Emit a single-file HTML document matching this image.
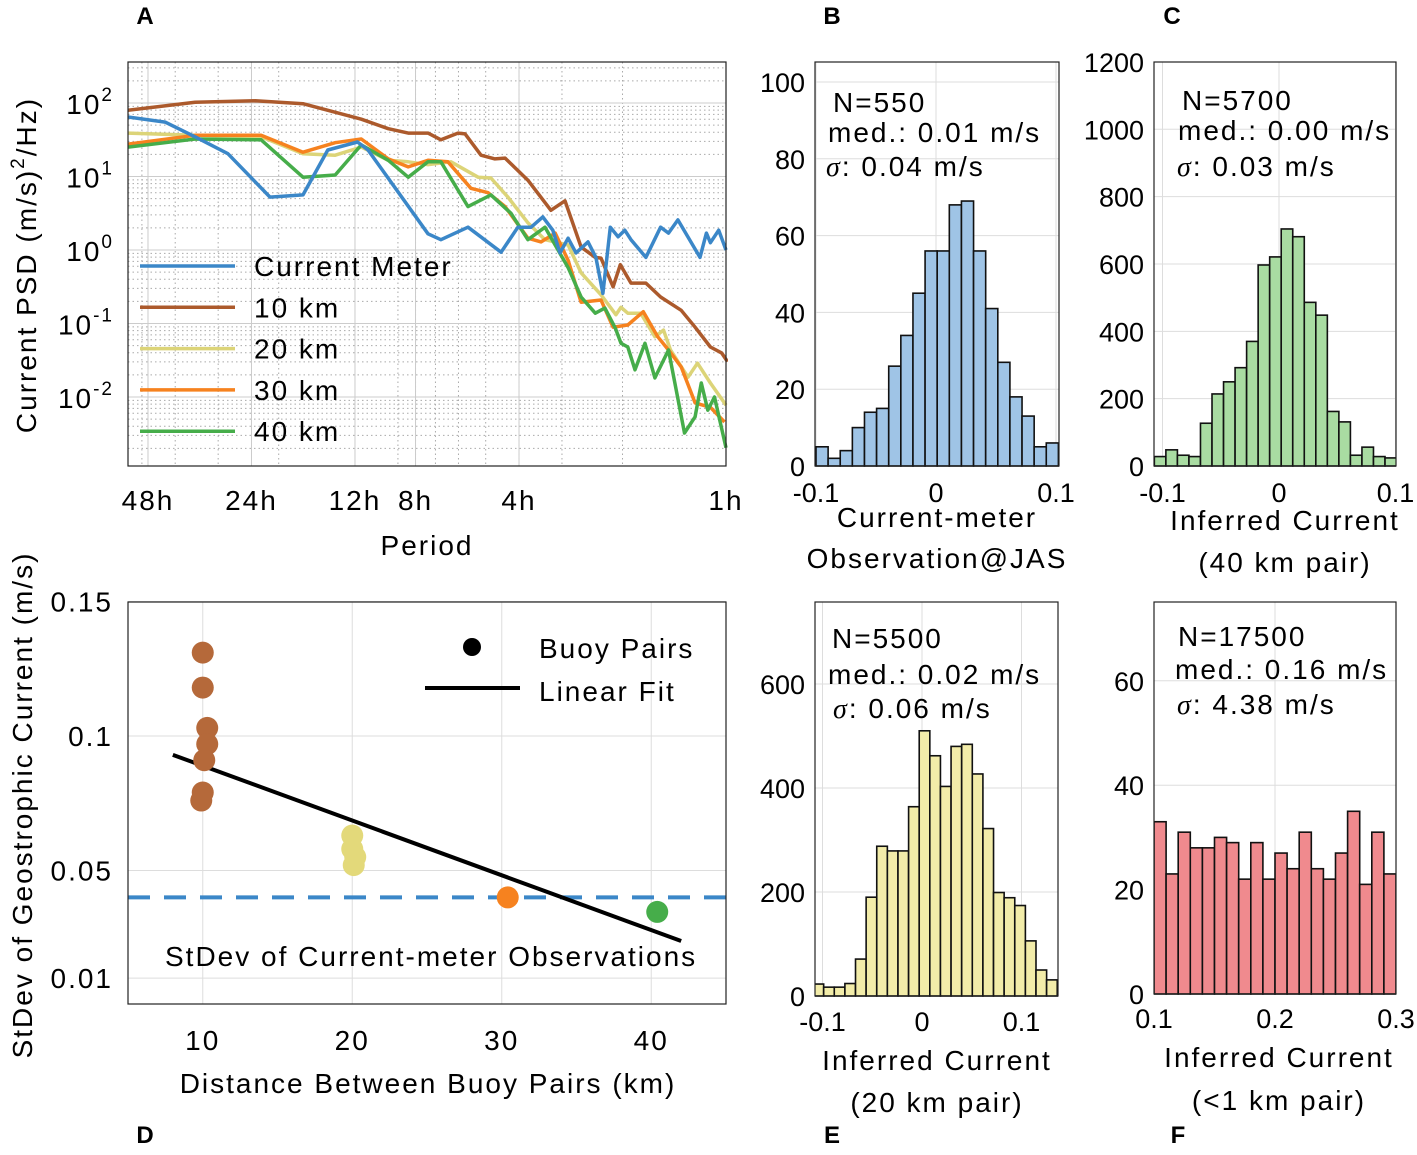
<!DOCTYPE html>
<html><head><meta charset="utf-8"><style>
body{margin:0;background:#fff}
svg{font-family:"Liberation Sans",Arial,sans-serif}
.w{letter-spacing:2px}
</style></head><body>
<svg id="fig" width="1417" height="1150" viewBox="0 0 1417 1150" xmlns="http://www.w3.org/2000/svg">
<g id="gA"></g>
<g id="gD"></g>
<g id="gH"></g>
<g font-weight="bold" font-size="24">
<text x="145" y="24" text-anchor="middle">A</text>
<text x="832" y="24" text-anchor="middle">B</text>
<text x="1172" y="24" text-anchor="middle">C</text>
<text x="145" y="1143" text-anchor="middle">D</text>
<text x="832" y="1143" text-anchor="middle">E</text>
<text x="1178" y="1143" text-anchor="middle">F</text>
</g>
</svg>
<script>
const NS="http://www.w3.org/2000/svg";
// ---------- Panel A data (period in hours, log10 PSD) ----------
const cmPeriod=[54.9,42.8,35.0,28.1,21.2,17.0,14.4,11.8,11.0,7.36,6.75,5.63,4.51,4.03,3.69,3.41,3.19,3.04,2.88,2.73,2.52,2.39,2.28,2.17,2.06,1.97,1.89,1.71,1.55,1.47,1.38,1.31,1.19,1.14,1.11,1.05,1.0];
const cmLogPsd=[1.81,1.74,1.54,1.31,0.72,0.75,1.36,1.47,1.36,0.22,0.14,0.31,-0.03,0.31,0.31,0.45,0.27,-0.04,0.16,-0.04,0.11,-0.10,-0.59,0.31,0.18,0.27,0.14,-0.10,0.31,0.23,0.41,0.23,-0.10,0.23,0.10,0.27,0.00];
const km10Period=[54.9,35.0,23.4,17.0,11.5,9.6,8.4,7.36,6.75,6.02,5.74,5.16,4.70,4.39,3.77,3.23,2.94,2.64,2.40,2.31,2.13,2.03,1.89,1.71,1.55,1.35,1.23,1.11,1.03,0.99];
const km10LogPsd=[1.90,2.01,2.03,1.99,1.78,1.65,1.59,1.59,1.50,1.59,1.58,1.29,1.24,1.25,0.95,0.54,0.67,0.04,-0.10,-0.11,-0.50,-0.20,-0.45,-0.45,-0.64,-0.82,-1.05,-1.32,-1.40,-1.52];
const km20Period=[54.9,35.0,22.5,17.0,13.7,11.5,9.6,8.4,7.36,6.31,5.26,4.83,4.31,3.77,3.36,2.88,2.64,2.31,2.09,2.02,1.93,1.77,1.61,1.52,1.45,1.29,1.21,1.11,1.0];
const km20LogPsd=[1.59,1.56,1.54,1.31,1.29,1.40,1.22,1.20,1.16,1.20,0.99,0.98,0.72,0.37,0.14,0.07,-0.31,-0.61,-0.88,-0.78,-0.86,-0.86,-1.18,-1.09,-1.36,-1.73,-1.54,-1.81,-2.11];
const km30Period=[54.9,35.0,22.5,17.0,13.7,11.5,9.6,8.4,7.36,6.44,5.52,4.92,4.39,3.77,3.45,3.14,2.88,2.64,2.31,2.13,1.93,1.74,1.58,1.47,1.35,1.23,1.11,1.01];
const km30LogPsd=[1.44,1.56,1.56,1.33,1.46,1.51,1.24,1.13,1.22,1.20,0.84,0.78,0.59,0.16,0.11,0.23,-0.14,-0.71,-0.68,-1.05,-1.02,-0.84,-1.18,-1.36,-1.59,-2.08,-2.14,-2.34];
const km40Period=[54.9,35.0,22.5,17.0,13.7,11.5,9.6,8.4,7.36,6.75,5.63,4.83,4.22,3.77,3.36,2.88,2.64,2.40,2.25,2.10,2.02,1.93,1.84,1.72,1.61,1.47,1.32,1.23,1.18,1.13,1.08,1.0];
const km40LogPsd=[1.40,1.51,1.50,0.99,1.02,1.43,1.22,0.99,1.20,1.20,0.59,0.75,0.50,0.14,0.31,-0.24,-0.64,-0.86,-0.79,-1.06,-1.27,-1.32,-1.63,-1.27,-1.74,-1.36,-2.49,-2.27,-1.81,-2.18,-2.00,-2.69];
const psdSeriesNames=["Current Meter","10 km","20 km","30 km","40 km"];
const periodTicks=[48,24,12,8,4,1];
const periodTickLabels=["48h","24h","12h","8h","4h","1h"];
const psdExpTicks=[2,1,0,-1,-2];
// ---------- Panel D data ----------
const pairDist=[10.0,10.0,10.3,10.3,10.1,10.0,9.9,20.0,20.0,20.2,20.1,30.4,40.4];
const pairStd=[0.131,0.118,0.103,0.097,0.091,0.079,0.076,0.063,0.058,0.055,0.052,0.040,0.0346];
const fitDist=[8.0,42.0];
const fitStd=[0.093,0.0238];
const cmStd=[0.040];
const distTicks=[10,20,30,40];
const stdTicks=[0.15,0.1,0.05,0.01];
const stdTickLabels=["0.15","0.1","0.05","0.01"];
// ---------- Histogram data ----------
const histBCounts=[5,2,4,10,14,15,26,34,45,56,56,68,69,56,41,27,18,13,5,6];
const histCCounts=[28,48,32,28,127,214,250,292,370,597,621,704,681,486,448,162,131,32,56,28,24];
const histECounts=[23,17,17,24,71,190,288,279,279,364,510,462,403,480,484,427,322,199,189,174,106,50,31];
const histFCounts=[33,23,31,28,28,30,29,22,29,22,27,24,31,24,22,27,35,21,31,23];

function mk(parent,tag,attrs,text){const e=document.createElementNS(NS,tag);for(const k in attrs)e.setAttribute(k,attrs[k]);if(text!==undefined)e.textContent=text;parent.appendChild(e);return e;}

// ---------- Panel A ----------
const gA=document.getElementById('gA');
const A={l:128,r:726,t:62,b:466};
const axP=p=>726-Math.log10(p)*343.8;
const ayL=v=>250-v*73.5;
mk(gA,'rect',{x:A.l,y:A.t,width:A.r-A.l,height:A.b-A.t,fill:'#fff'});
for(let e=-3;e<=2;e++){for(let m=2;m<=9;m++){const v=e+Math.log10(m);const y=ayL(v);if(y>A.t&&y<A.b){mk(gA,'line',{x1:A.l,x2:A.r,y1:y,y2:y,stroke:'#aaa','stroke-width':1,'stroke-dasharray':'1.5 3'});}}}
for(let e=-1;e<=1;e++){for(let m=2;m<=9;m++){const p=Math.pow(10,e)*m;const x=axP(p);if(x>A.l&&x<A.r)mk(gA,'line',{x1:x,x2:x,y1:A.t,y2:A.b,stroke:'#aaa','stroke-width':1,'stroke-dasharray':'1.5 3'});}}
psdExpTicks.forEach(e=>{const y=ayL(e);mk(gA,'line',{x1:A.l,x2:A.r,y1:y,y2:y,stroke:'#ccc','stroke-width':1});
 const t=mk(gA,'text',{x:114,y:y+11,'text-anchor':'end','font-size':28,'class':'w'});
 
 t.textContent='10';mk(t,'tspan',{dy:-13,'font-size':19},String(e));});
periodTicks.forEach((p,i)=>{const x=axP(p);mk(gA,'line',{x1:x,x2:x,y1:A.t,y2:A.b,stroke:'#ccc','stroke-width':1});
 const t=mk(gA,'text',{x:x,y:510,'text-anchor':'middle','font-size':28,'class':'w'},periodTickLabels[i]);
 });
const psdColors=['#3b87c8','#ac5a2c','#dcd478','#f6821f','#46ad4a'];
const psdP=[cmPeriod,km10Period,km20Period,km30Period,km40Period];
const psdV=[cmLogPsd,km10LogPsd,km20LogPsd,km30LogPsd,km40LogPsd];
const clipA=mk(gA,'clipPath',{id:'clipA'});mk(clipA,'rect',{x:A.l,y:A.t,width:A.r-A.l+2,height:A.b-A.t});
[2,3,4,1,0].forEach(i=>{const pts=psdP[i].map((p,j)=>axP(p).toFixed(1)+','+ayL(psdV[i][j]).toFixed(1)).join(' ');
 const pl=mk(gA,'polyline',{points:pts,fill:'none',stroke:psdColors[i],'stroke-width':3.5,'stroke-linejoin':'round','clip-path':'url(#clipA)'});
 
 });
psdSeriesNames.forEach((n,i)=>{const y=266+i*41.3;
 mk(gA,'line',{x1:140,x2:235,y1:y,y2:y,stroke:psdColors[i],'stroke-width':3.5});
 const t=mk(gA,'text',{x:254,y:y+10,'font-size':28,'class':'w'},n);
 });
mk(gA,'rect',{x:A.l,y:A.t,width:A.r-A.l,height:A.b-A.t,fill:'none',stroke:'#222','stroke-width':1.2});
const lblA=mk(gA,'text',{x:427,y:555,'text-anchor':'middle','font-size':28,'class':'w'},'Period');

const ylA=mk(gA,'text',{transform:'translate(36,265) rotate(-90)','text-anchor':'middle','font-size':28,'class':'w'});

ylA.textContent='Current PSD (m/s)';mk(ylA,'tspan',{dy:-12,'font-size':19},'2');mk(ylA,'tspan',{dy:12},'/Hz)');

// ---------- Panel D ----------
const gD=document.getElementById('gD');
const D={l:128,r:726,t:602,b:1004};
const dx=v=>128+(v-5)*14.95;
const dy=v=>1005-v*2690;
distTicks.forEach(v=>{const x=dx(v);mk(gD,'line',{x1:x,x2:x,y1:D.t,y2:D.b,stroke:'#ddd'});
 const t=mk(gD,'text',{x:x,y:1050,'text-anchor':'middle','font-size':28,'class':'w'},String(v));
 });
stdTicks.forEach((v,i)=>{const y=dy(v);mk(gD,'line',{x1:D.l,x2:D.r,y1:y,y2:y,stroke:'#ddd'});
 const t=mk(gD,'text',{x:113,y:y+10,'text-anchor':'end','font-size':28,'class':'w'},stdTickLabels[i]);
 });
const dash=mk(gD,'line',{x1:D.l,x2:D.r,y1:dy(cmStd[0]),y2:dy(cmStd[0]),stroke:'#3b87c8','stroke-width':4,'stroke-dasharray':'22 14'});

const fit=mk(gD,'line',{x1:dx(fitDist[0]),y1:dy(fitStd[0]),x2:dx(fitDist[1]),y2:dy(fitStd[1]),stroke:'#000','stroke-width':4});

pairDist.forEach((d,i)=>{let c=d<15?'#b5693a':d<25?'#e3d97a':d<35?'#f6821f':'#46ad4a';
 const ci=mk(gD,'circle',{cx:dx(d),cy:dy(pairStd[i]),r:11,fill:c});
 });
mk(gD,'circle',{cx:472,cy:647,r:9,fill:'#000'});
mk(gD,'line',{x1:425,x2:520,y1:688,y2:688,stroke:'#000','stroke-width':4});
let t1=mk(gD,'text',{x:539,y:658,'font-size':28,'class':'w'},'Buoy Pairs');
let t2=mk(gD,'text',{x:539,y:701,'font-size':28,'class':'w'},'Linear Fit');
let t3=mk(gD,'text',{x:165,y:966,'font-size':28,'class':'w'},'StDev of Current-meter Observations');
mk(gD,'rect',{x:D.l,y:D.t,width:D.r-D.l,height:D.b-D.t,fill:'none',stroke:'#222','stroke-width':1.2});
let xl=mk(gD,'text',{x:428,y:1093,'text-anchor':'middle','font-size':28,'class':'w'},'Distance Between Buoy Pairs (km)');
let yl=mk(gD,'text',{transform:'translate(32,805) rotate(-90)','text-anchor':'middle','font-size':28,'class':'w'},'StDev of Geostrophic Current (m/s)');

// ---------- Histograms ----------
const gH=document.getElementById('gH');
function hist(cfg){
 const g=mk(gH,'g',{});
 
 const {l,r,t,b}=cfg.box;
 const cid='clip'+cfg.name;const cp=mk(g,'clipPath',{id:cid});mk(cp,'rect',{x:l,y:t,width:r-l,height:b-t+1});
 cfg.yt.forEach(v=>{const y=cfg.y(v);mk(g,'line',{x1:l,x2:r,y1:y,y2:y,stroke:'#ddd'});
  const tx=mk(g,'text',{x:l-10,y:y+10,'text-anchor':'end','font-size':27},String(v));});
 cfg.xt.forEach((v,i)=>{const x=cfg.x(v);mk(g,'line',{x1:x,x2:x,y1:t,y2:b,stroke:'#ddd'});
  const tx=mk(g,'text',{x:x,y:cfg.xty,'text-anchor':'middle','font-size':27},cfg.xtl[i]);});
 cfg.counts.forEach((c,i)=>{const x0=cfg.x(cfg.start+i*cfg.w),x1=cfg.x(cfg.start+(i+1)*cfg.w);
  const rc=mk(g,'rect',{x:x0,y:cfg.y(c),width:x1-x0,height:cfg.y(0)-cfg.y(c),fill:cfg.fill,stroke:'#111','stroke-width':1.6,'clip-path':'url(#'+cid+')'});
  });
 mk(g,'rect',{x:l,y:t,width:r-l,height:b-t,fill:'none',stroke:'#222','stroke-width':1.2});
 cfg.ann.forEach(a=>{const tx=mk(g,'text',{x:a[0],y:a[1],'font-size':28,'class':'w'});
  if(a[2].startsWith('σ')){mk(tx,'tspan',{'font-style':'italic','font-family':'Liberation Serif'},'σ');mk(tx,'tspan',{},a[2].slice(1));}else tx.textContent=a[2];});
 cfg.lab.forEach(a=>{const tx=mk(g,'text',{x:a[0],y:a[1],'text-anchor':'middle','font-size':28,'class':'w'},a[2]);});
}
hist({name:'histogram-b',box:{l:815,r:1059,t:62,b:466},x:v=>936+v*1200,y:v=>466-v*3.84,start:-0.1,w:0.0101,counts:histBCounts,fill:'#9fc4e6',
 yt:[0,20,40,60,80,100],xt:[-0.1,0,0.1],xtl:['-0.1','0','0.1'],xty:502,
 ann:[[833,112,'N=550'],[828,142,'med.: 0.01 m/s'],[826,176,'σ: 0.04 m/s']],lab:[[937,527,'Current-meter'],[937,568,'Observation@JAS']]});
hist({name:'histogram-c',box:{l:1154,r:1396,t:62,b:466},x:v=>1279+v*1165,y:v=>466-v*0.3367,start:-0.107,w:0.0099,counts:histCCounts,fill:'#a9dca2',
 yt:[0,200,400,600,800,1000,1200],xt:[-0.1,0,0.1],xtl:['-0.1','0','0.1'],xty:502,
 ann:[[1182,110,'N=5700'],[1178,140,'med.: 0.00 m/s'],[1177,176,'σ: 0.03 m/s']],lab:[[1285,530,'Inferred Current'],[1285,572,'(40 km pair)']]});
hist({name:'histogram-e',box:{l:815,r:1058,t:602,b:996},x:v=>922+v*995,y:v=>996-v*0.52,start:-0.1095,w:0.01067,counts:histECounts,fill:'#f2eca9',
 yt:[0,200,400,600],xt:[-0.1,0,0.1],xtl:['-0.1','0','0.1'],xty:1031,
 ann:[[832,648,'N=5500'],[828,684,'med.: 0.02 m/s'],[833,718,'σ: 0.06 m/s']],lab:[[937,1070,'Inferred Current'],[937,1112,'(20 km pair)']]});
hist({name:'histogram-f',box:{l:1154,r:1396,t:602,b:994},x:v=>1154+(v-0.1)*1210,y:v=>994-v*5.22,start:0.1,w:0.01,counts:histFCounts,fill:'#f08a8e',
 yt:[0,20,40,60],xt:[0.1,0.2,0.3],xtl:['0.1','0.2','0.3'],xty:1028,
 ann:[[1178,646,'N=17500'],[1175,679,'med.: 0.16 m/s'],[1177,714,'σ: 4.38 m/s']],lab:[[1279,1067,'Inferred Current'],[1279,1110,'(<1 km pair)']]});
</script>
</body></html>
